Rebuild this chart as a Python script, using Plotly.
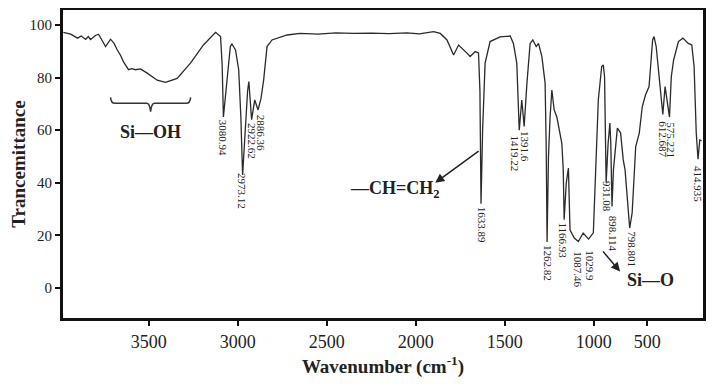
import plotly.graph_objects as go

# Spectrum (wavenumber in cm-1, transmittance)
wavenumber = [3980, 3939, 3900, 3880, 3855, 3840, 3827, 3800, 3782, 3760, 3743, 3715, 3695, 3677,
              3659, 3642, 3614, 3595, 3575, 3547, 3509, 3453, 3406, 3341, 3266, 3193, 3125, 3097,
              3088, 3080.94, 3070, 3060, 3042, 3033, 3013, 2995, 2983, 2973.12, 2955, 2945, 2938,
              2930, 2922.62, 2905, 2886.36, 2870, 2855, 2836, 2808, 2723, 2650, 2550, 2450, 2350,
              2250, 2150, 2050, 1980, 1900, 1863, 1825, 1788, 1760, 1713, 1695, 1667, 1648, 1640,
              1633.89, 1625, 1611, 1583, 1564, 1527, 1470, 1452, 1433, 1424, 1419.22, 1405, 1391.6,
              1376, 1358, 1343, 1324, 1311, 1292, 1274, 1268, 1262.82, 1255, 1246, 1236, 1223, 1208,
              1180, 1172, 1166.93, 1155, 1143, 1134, 1110, 1087.46, 1060, 1029.9, 1003, 993, 984,
              975, 956, 947, 940, 935, 931.08, 920, 910, 905, 898.114, 890, 880, 868, 850, 835,
              825, 798.801, 785, 765, 745, 728, 710, 690, 670, 662, 650, 632, 612.687, 600, 590,
              575.221, 565, 552, 525, 500, 470, 450, 437, 425, 414.935, 405, 395]
transmittance = [97.2, 96.5, 95.0, 95.8, 94.5, 95.6, 94.5, 96.0, 96.5, 94.0, 91.8, 94.6, 93.0, 90.5,
                 88.5, 86.0, 83.0, 83.4, 83.0, 83.3, 81.7, 79.0, 78.2, 79.7, 85.5, 92.4, 97.2, 95.6,
                 85.0, 65.0, 72.0, 79.0, 91.8, 92.8, 90.5, 83.0, 65.0, 43.0, 64.0, 75.0, 78.5,
                 72.0, 64.0, 71.5, 67.7, 72.0, 79.0, 91.8, 94.3, 96.2, 96.8, 96.5, 97.0, 96.8,
                 96.9, 96.7, 97.0, 96.6, 97.5, 96.8, 94.3, 88.6, 92.4, 89.3, 88.0, 89.9, 89.4, 75.0,
                 32.0, 60.0, 85.5, 93.7, 94.3, 95.5, 95.8, 93.0, 85.5, 72.0, 60.0, 71.5, 61.4,
                 77.9, 93.0, 94.3, 91.8, 93.0, 88.0, 78.0, 55.0, 17.5, 50.0, 65.0, 75.3, 67.7, 65.0,
                 55.0, 45.0, 26.0, 40.0, 45.6, 22.0, 19.0, 17.7, 20.9, 18.6, 21.0, 40.0, 55.0,
                 71.5, 84.2, 84.8, 80.4, 56.0, 40.0, 55.0, 62.7, 55.0, 31.0, 45.0, 53.8, 60.8, 59.0, 48.7,
                 45.0, 22.8, 28.6, 53.8, 58.9, 69.0, 73.4, 76.6, 94.3, 95.6, 91.8, 79.0, 66.0, 76.6, 72.0,
                 65.0, 80.4, 86.7, 93.7, 95.0, 93.0, 92.4, 84.2, 58.9, 49.0, 56.3, 56.0]

# Peak labels
peak_wn = [3080.94, 2973.12, 2922.62, 2886.36, 1633.89, 1419.22, 1391.6, 1262.82, 1166.93,
           1087.46, 1029.9, 931.08, 898.114, 798.801, 612.687, 575.221, 414.935]
peak_T = [65.0, 45.0, 64.0, 67.0, 32.0, 59.0, 61.0, 17.5, 26.0, 15.0, 15.5, 42.0, 28.6, 22.8,
          64.6, 64.0, 47.5]
peak_text = ["3080.94", "2973.12", "2922.62", "2886.36", "1633.89", "1419.22", "1391.6", "1262.82",
             "1166.93", "1087.46", "1029.9", "931.08", "898.114", "798.801", "612.687", "575.221",
             "414.935"]
peak_dx = [0, 0, 1, 3, 1, -4, 1, 1, -1, 0, 2, 1, 1, 2, 0, 2, 0]

# Axis ticks as printed in the figure
x_tick_pos = [3500, 3000, 2500, 2000, 1500, 1000, 700]
x_tick_text = ["3500", "3000", "2500", "2000", "1500", "1000", "500"]
y_ticks = [0, 20, 40, 60, 80, 100]

fig = go.Figure()
fig.add_trace(go.Scatter(x=wavenumber, y=transmittance, mode="lines",
                         line=dict(color="#2a2a2a", width=1.3), showlegend=False))

serif = "Liberation Serif, Times New Roman, serif"

for wn, t, txt, dx in zip(peak_wn, peak_T, peak_text, peak_dx):
    fig.add_annotation(x=wn, y=t, text=txt, showarrow=False, textangle=90,
                       xanchor="center", yanchor="top", xshift=dx, yshift=-1,
                       font=dict(family=serif, size=11, color="#222"))

# Si-OH brace
fig.add_shape(type="path", xref="x", yref="y",
              path="M 3715,72.5 Q 3712,70.2 3690,70.2 L 3512,70.2 Q 3495,70.2 3490,67 "
                   "Q 3485,70.2 3468,70.2 L 3290,70.2 Q 3268,70.2 3265,72.5",
              line=dict(color="#333", width=1.5))
fig.add_annotation(x=3490, y=59.5, text="<b>Si—OH</b>", showarrow=False,
                   font=dict(family=serif, size=18, color="#222"))

# -CH=CH2
fig.add_annotation(x=2116, y=37.5, text="<b>—CH=CH<sub>2</sub></b>", showarrow=False,
                   font=dict(family=serif, size=18, color="#222"))
fig.add_annotation(x=1891, y=40, ax=1639, ay=52.5, axref="x", ayref="y", xref="x", yref="y",
                   text="", showarrow=True, arrowhead=2, arrowsize=1.2, arrowwidth=1.5,
                   arrowcolor="#222")

# Si-O
fig.add_annotation(x=684, y=3.0, text="<b>Si—O</b>", showarrow=False,
                   font=dict(family=serif, size=18, color="#222"))
fig.add_annotation(x=853, y=6.3, ax=956, ay=14.5, axref="x", ayref="y", xref="x", yref="y",
                   text="", showarrow=True, arrowhead=2, arrowsize=1.2, arrowwidth=1.5,
                   arrowcolor="#222")

fig.update_layout(
    width=722, height=384,
    margin=dict(l=55, r=27, t=2, b=74),
    paper_bgcolor="white", plot_bgcolor="white",
    font=dict(family=serif, color="#222"),
    xaxis=dict(range=[3982, 387], tickvals=x_tick_pos, ticktext=x_tick_text, automargin=False,
               showgrid=False, zeroline=False, showline=True, mirror=True,
               linecolor="#111", linewidth=3, ticks="outside", ticklen=5, tickwidth=2,
               tickcolor="#111", tickfont=dict(family=serif, size=18, color="#222"),
               title=dict(text="<b>Wavenumber (cm<sup>-1</sup>)</b>",
                          font=dict(family=serif, size=19, color="#222"), standoff=10)),
    yaxis=dict(range=[-11.4, 105.7], tickvals=y_ticks, automargin=False,
               showgrid=False, zeroline=False, showline=True, mirror=True,
               linecolor="#111", linewidth=3, ticks="outside", ticklen=5, tickwidth=2,
               tickcolor="#111", tickfont=dict(family=serif, size=15, color="#222"),
               title=dict(text="<b>Trancemittance</b>",
                          font=dict(family=serif, size=19, color="#222"), standoff=6)),
)

fig.write_html("out.html")
